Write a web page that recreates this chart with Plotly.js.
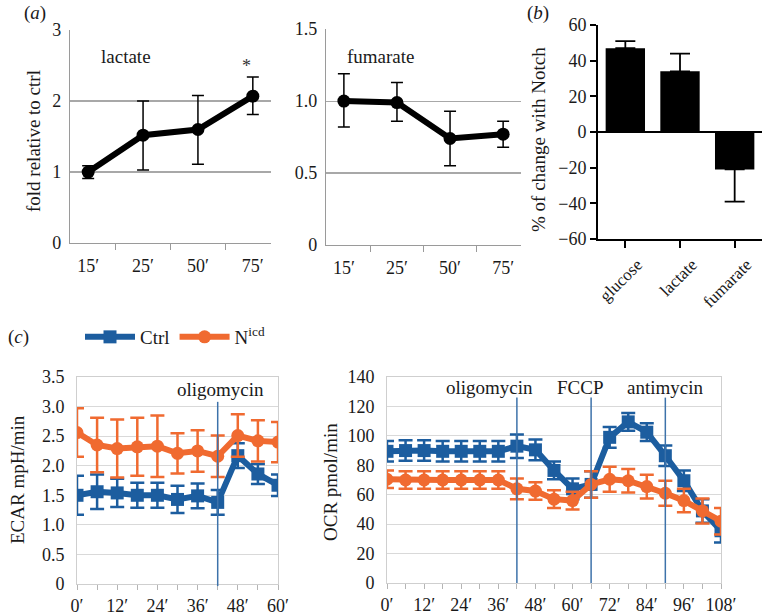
<!DOCTYPE html>
<html>
<head>
<meta charset="utf-8">
<script src="https://cdn.plot.ly/plotly-3.0.1.min.js"></script>
<style>html,body{margin:0;padding:0;background:#fff;}#chart{width:766px;height:616px;}</style>
</head>
<body>
<div id="chart"></div>
<script>
// ---------- Panel (a) ----------
const timeLabels = ['15′', '25′', '50′', '75′'];
const lactateMean = [1.0, 1.52, 1.6, 2.07];
const lactateErrPlus = [0.09, 0.48, 0.48, 0.27];
const lactateErrMinus = [0.09, 0.49, 0.49, 0.26];
const fumarateMean = [1.0, 0.99, 0.74, 0.77];
const fumarateErrPlus = [0.19, 0.14, 0.19, 0.09];
const fumarateErrMinus = [0.18, 0.13, 0.19, 0.09];

// ---------- Panel (b) ----------
const metabolites = ['glucose', 'lactate', 'fumarate'];
const notchChange = [47, 34, -21];
const notchErrUp = [4, 10, 0];
const notchErrDown = [0, 0, 18];

// ---------- Panel (c) ECAR ----------
const ecarTimes = [0, 6, 12, 18, 24, 30, 36, 42, 48, 54, 60];
const ecarCtrl = [1.50, 1.56, 1.54, 1.50, 1.50, 1.43, 1.49, 1.38, 2.17, 1.86, 1.67];
const ecarCtrlErr = [0.33, 0.29, 0.24, 0.21, 0.21, 0.23, 0.21, 0.21, 0.21, 0.17, 0.18];
const ecarNicd = [2.56, 2.35, 2.29, 2.32, 2.33, 2.21, 2.25, 2.16, 2.51, 2.42, 2.40];
const ecarNicdErr = [0.41, 0.46, 0.49, 0.49, 0.52, 0.34, 0.35, 0.35, 0.36, 0.35, 0.34];
const ecarTickVals = [0, 6, 12, 18, 24, 30, 36, 42, 48, 54, 60];
const ecarTickText = ['0′', ' ', '12′', ' ', '24′', ' ', '36′', ' ', '48′', ' ', '60′'];
const ecarYTickVals = [0, 0.5, 1.0, 1.5, 2.0, 2.5, 3.0, 3.5];
const ecarYTickText = ['0', '0.5', '1.0', '1.5', '2.0', '2.5', '3.0', '3.5'];
const ecarTreatTimes = [42];
const ecarTreatNames = ['oligomycin'];

// ---------- Panel (c) OCR ----------
const ocrTimes = [0, 6, 12, 18, 24, 30, 36, 42, 48, 54, 60, 66, 72, 78, 84, 90, 96, 102, 108];
const ocrCtrl = [89.5, 90, 90, 89.5, 89.5, 89.5, 89.5, 93, 90.5, 76.5, 64, 67, 99, 109.5, 102.5, 86.5, 69.5, 49, 35.5];
const ocrCtrlErr = [7, 7, 7, 7, 7, 7, 7, 8, 7, 6, 7, 9, 7, 6, 6, 7, 7, 8, 8];
const ocrNicd = [70.5, 70, 70, 70, 70, 70, 70, 64, 62.5, 57, 56, 67, 70.5, 69.5, 65.5, 61, 56, 49, 42];
const ocrNicdErr = [6, 6, 6, 6, 6, 6, 6, 7, 6, 6, 6, 9, 8.5, 8, 8, 8.5, 8, 8.5, 9];
const ocrTickVals = [0, 6, 12, 18, 24, 30, 36, 42, 48, 54, 60, 66, 72, 78, 84, 90, 96, 102, 108];
const ocrTickText = ['0′', ' ', '12′', ' ', '24′', ' ', '36′', ' ', '48′', ' ', '60′', ' ', '72′', ' ', '84′', ' ', '96′', ' ', '108′'];
const ocrTreatTimes = [42, 66, 90];
const ocrTreatNames = ['oligomycin', 'FCCP', 'antimycin'];
const ocrTreatLabelX = [33.3, 62.4, 89.9];

const FONT = '"Liberation Serif", "DejaVu Serif", serif';
const TXT = '#1a1a1a';
const BLUE = '#1c5d9f';
const ORANGE = '#f06a30';
const W = 766, H = 616;
const px = v => v / W;
const py = v => 1 - v / H;

const traces = [
  {x: timeLabels, y: lactateMean, xaxis: 'x', yaxis: 'y', type: 'scatter', mode: 'lines+markers',
   line: {color: '#000', width: 6}, marker: {color: '#000', size: 13},
   error_y: {type: 'data', symmetric: false, array: lactateErrPlus, arrayminus: lactateErrMinus, color: '#000', thickness: 1.5, width: 6},
   showlegend: false},
  {x: timeLabels, y: fumarateMean, xaxis: 'x2', yaxis: 'y2', type: 'scatter', mode: 'lines+markers',
   line: {color: '#000', width: 6}, marker: {color: '#000', size: 13},
   error_y: {type: 'data', symmetric: false, array: fumarateErrPlus, arrayminus: fumarateErrMinus, color: '#000', thickness: 1.5, width: 6},
   showlegend: false},
  {x: metabolites, y: notchChange, xaxis: 'x3', yaxis: 'y3', type: 'bar', width: 0.72,
   marker: {color: '#000'},
   error_y: {type: 'data', symmetric: false, array: notchErrUp, arrayminus: notchErrDown, color: '#000', thickness: 1.8, width: 10},
   showlegend: false},
  {x: ecarTimes, y: ecarCtrl, xaxis: 'x4', yaxis: 'y4', type: 'scatter', mode: 'lines+markers', name: 'Ctrl',
   line: {color: BLUE, width: 6}, marker: {color: BLUE, size: 13, symbol: 'square'},
   error_y: {type: 'data', array: ecarCtrlErr, color: BLUE, thickness: 2.5, width: 7}, legendgroup: 'c'},
  {x: ecarTimes, y: ecarNicd, xaxis: 'x4', yaxis: 'y4', type: 'scatter', mode: 'lines+markers', name: 'N<sup>icd</sup>',
   line: {color: ORANGE, width: 6}, marker: {color: ORANGE, size: 13, symbol: 'circle'},
   error_y: {type: 'data', array: ecarNicdErr, color: ORANGE, thickness: 2.5, width: 7}, legendgroup: 'n'},
  {x: ocrTimes, y: ocrCtrl, xaxis: 'x5', yaxis: 'y5', type: 'scatter', mode: 'lines+markers', name: 'Ctrl',
   line: {color: BLUE, width: 6}, marker: {color: BLUE, size: 13, symbol: 'square'},
   error_y: {type: 'data', array: ocrCtrlErr, color: BLUE, thickness: 2.5, width: 7}, showlegend: false},
  {x: ocrTimes, y: ocrNicd, xaxis: 'x5', yaxis: 'y5', type: 'scatter', mode: 'lines+markers', name: 'Nicd',
   line: {color: ORANGE, width: 6}, marker: {color: ORANGE, size: 13, symbol: 'circle'},
   error_y: {type: 'data', array: ocrNicdErr, color: ORANGE, thickness: 2.5, width: 7}, showlegend: false}
];

const tickFont = {family: FONT, size: 18, color: TXT};
const tickFontC = {family: FONT, size: 18, color: TXT};

const aX = (dom, anchor) => ({domain: dom, anchor: anchor, type: 'category', tickson: 'boundaries',
  ticks: 'outside', ticklen: 6, tickcolor: '#9a9a9a', tickwidth: 1.2, showline: true, linecolor: '#9a9a9a', linewidth: 1.2,
  showgrid: false, tickfont: tickFont, ticklabelstandoff: 6, tickangle: 0, fixedrange: true});
const aY = (dom, anchor, rng, vals, txt) => ({domain: dom, anchor: anchor, range: rng, tickvals: vals, ticktext: txt,
  showline: true, linecolor: '#9a9a9a', linewidth: 1.2, gridcolor: '#a8a8a8', gridwidth: 1.2, zeroline: false,
  ticks: '', ticklabelstandoff: 4, tickfont: tickFont});

const cX = (dom, anchor, rng, vals, txt) => ({domain: dom, anchor: anchor, range: rng, tickvals: vals, ticktext: txt,
  ticks: 'outside', ticklen: 5, tickcolor: '#b5b5b5', showline: true, mirror: true, linecolor: '#cfcfcf', linewidth: 1,
  showgrid: false, zeroline: false, tickangle: 0, tickfont: tickFontC});
const cY = (dom, anchor, rng, vals, txt) => ({domain: dom, anchor: anchor, range: rng, tickvals: vals, ticktext: txt,
  showline: true, mirror: true, linecolor: '#cfcfcf', linewidth: 1, gridcolor: '#d9d9d9', gridwidth: 1, zeroline: false,
  ticks: '', ticklabelstandoff: 8, tickfont: tickFontC});

const shapes = [];
ecarTreatTimes.forEach(t => shapes.push({type: 'line', xref: 'x4', yref: 'y4 domain', x0: t, x1: t, y0: -0.01, y1: 0.88,
  line: {color: '#3d72aa', width: 1.5}}));
ocrTreatTimes.forEach(t => shapes.push({type: 'line', xref: 'x5', yref: 'y5 domain', x0: t, x1: t, y0: 0, y1: 0.9,
  line: {color: '#3d72aa', width: 1.5}}));

const ann = (text, x, y, extra) => Object.assign({text: text, x: x, y: y, xref: 'paper', yref: 'paper', showarrow: false,
  xanchor: 'center', yanchor: 'middle', font: {family: FONT, size: 19, color: TXT}}, extra || {});

const annotations = [
  ann('(<i>a</i>)', px(35), py(13)),
  ann('(<i>b</i>)', px(538), py(13)),
  ann('(<i>c</i>)', px(18), py(337)),
  ann('lactate', px(126), py(56)),
  ann('fumarate', px(381), py(56)),
  ann('*', px(246), py(66), {font: {family: FONT, size: 18, color: '#333'}}),
  ann('fold relative to ctrl', px(33), py(141), {textangle: -90}),
  ann('% of change with Notch', px(538), py(140), {textangle: -90}),
  ann('ECAR mpH/min', px(17), py(480), {textangle: -90}),
  ann('OCR pmol/min', px(330), py(482), {textangle: -90})
];
ecarTreatNames.forEach((n, i) => annotations.push({text: n, x: ecarTreatTimes[i] + 0.8, y: 0.94, xref: 'x4', yref: 'y4 domain',
  showarrow: false, xanchor: 'center', yanchor: 'middle', font: {family: FONT, size: 19, color: TXT}}));
ocrTreatNames.forEach((n, i) => annotations.push({text: n, x: ocrTreatLabelX[i], y: 0.95, xref: 'x5', yref: 'y5 domain',
  showarrow: false, xanchor: 'center', yanchor: 'middle', font: {family: FONT, size: 19, color: TXT}}));

const layout = {
  width: W, height: H, margin: {l: 0, r: 0, t: 0, b: 0},
  paper_bgcolor: '#fff', plot_bgcolor: 'rgba(0,0,0,0)',
  font: {family: FONT, color: TXT, size: 18},
  showlegend: true,
  legend: {orientation: 'h', x: px(80), y: py(337), xanchor: 'left', yanchor: 'middle',
    font: {family: FONT, size: 19, color: TXT}, itemwidth: 50, bgcolor: 'rgba(0,0,0,0)', tracegroupgap: 0},
  xaxis: aX([px(70), px(271)], 'y'),
  yaxis: aY([py(243), py(30)], 'x', [0, 3.002], [0, 1, 2, 3], ['0', '1', '2', '3']),
  xaxis2: aX([px(326), px(521)], 'y2'),
  yaxis2: aY([py(245), py(29)], 'x2', [0, 1.501], [0, 0.5, 1.0, 1.5], ['0', '0.5', '1.0', '1.5']),
  xaxis3: {domain: [px(598), px(762)], anchor: 'y3', type: 'category', range: [-0.5, 2.5],
    ticks: 'outside', ticklen: 7, tickwidth: 2, tickcolor: '#000', showline: true, linecolor: '#000', linewidth: 2,
    showgrid: false, tickangle: -45, ticklabelshift: 12, tickfont: {family: FONT, size: 17, color: TXT}},
  yaxis3: {domain: [py(239), py(25)], anchor: 'x3', range: [-60, 60], tickvals: [-60, -40, -20, 0, 20, 40, 60],
    ticktext: ['−60', '−40', '−20', '0', '20', '40', '60'],
    ticks: 'outside', ticklen: 6, tickwidth: 2, tickcolor: '#000', showline: true, linecolor: '#000', linewidth: 2,
    showgrid: false, zeroline: true, zerolinecolor: '#000', zerolinewidth: 1.5, tickfont: tickFont},
  xaxis4: cX([px(77), px(278)], 'y4', [0, 60], ecarTickVals, ecarTickText),
  yaxis4: cY([py(584), py(377)], 'x4', [0, 3.5], ecarYTickVals, ecarYTickText),
  xaxis5: cX([px(387), px(721)], 'y5', [0, 108], ocrTickVals, ocrTickText),
  yaxis5: cY([py(583), py(377)], 'x5', [0, 140], [0, 20, 40, 60, 80, 100, 120, 140], ['0', '20', '40', '60', '80', '100', '120', '140']),
  shapes: shapes,
  annotations: annotations
};

Plotly.newPlot('chart', traces, layout, {staticPlot: true, displayModeBar: false});
</script>
</body>
</html>
